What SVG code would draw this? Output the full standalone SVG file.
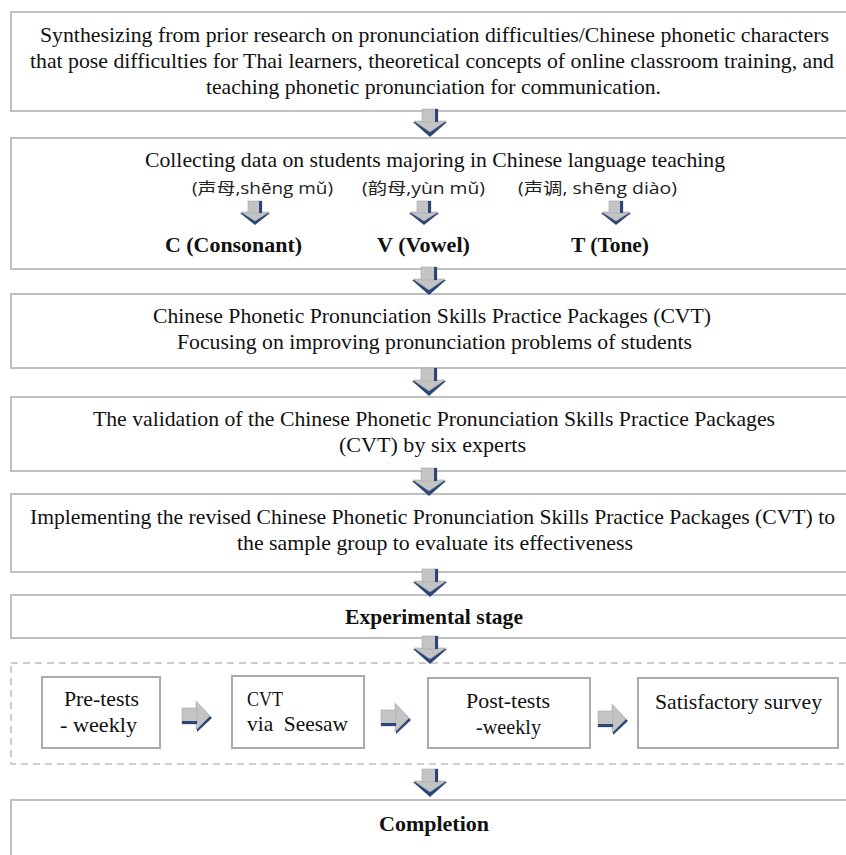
<svg xmlns="http://www.w3.org/2000/svg" width="846" height="855" viewBox="0 0 846 855">
<style>
.box{fill:#fff;stroke:#bfbfbf;stroke-width:2}
.ibox{fill:#fff;stroke:#ababab;stroke-width:2}
.dash{fill:none;stroke:#bdbdbd;stroke-width:1.5;stroke-dasharray:7 5}
.t{font-family:"Liberation Serif","Times New Roman",serif;font-size:22px;fill:#111}
.b{font-family:"Liberation Serif","Times New Roman",serif;font-size:21px;font-weight:bold;fill:#111}
.s{font-family:"Open Sans","Noto Sans CJK SC",sans-serif;font-size:16px;fill:#222}
.g{fill:#c4c4c4;stroke:#a8a8a8;stroke-width:0.6}
.n{fill:#2a4778}
</style>
<defs>
<g id="down">
<polygon class="n" points="-17,13 17,13 0,28"/>
<polygon class="g" points="-16,12 16,12 0,23"/>
<rect class="g" x="-8" y="0" width="16" height="13"/>
<rect class="n" x="5" y="0" width="3" height="13"/>
</g>
<g id="sdown">
<polygon class="n" points="-15,12 15,12 0,24"/>
<polygon class="g" points="-14,11 14,11 0,20"/>
<rect class="g" x="-7" y="0" width="14" height="12"/>
<rect class="n" x="4" y="0" width="3" height="12"/>
</g>
<g id="right">
<polygon class="n" points="15,-13 15,16 30,2"/>
<polygon class="g" points="14,-15 14,14 28,0"/>
<rect class="g" x="0" y="-8" width="15" height="16"/>
<rect class="n" x="0" y="5" width="15" height="3"/>
</g>
</defs>

<g id="n1">
<rect class="box" x="11" y="12" width="840" height="99"/>
<text class="t" x="40" y="42" textLength="789" lengthAdjust="spacingAndGlyphs">Synthesizing from prior research on pronunciation difficulties/Chinese phonetic characters</text>
<text class="t" x="30" y="68" textLength="804" lengthAdjust="spacingAndGlyphs">that pose difficulties for Thai learners, theoretical concepts of online classroom training, and</text>
<text class="t" x="206" y="94" textLength="455" lengthAdjust="spacingAndGlyphs">teaching phonetic pronunciation for communication.</text>
</g>

<g id="n2">
<rect class="box" x="11" y="138" width="840" height="131"/>
<text class="t" x="145" y="167" textLength="580" lengthAdjust="spacingAndGlyphs">Collecting data on students majoring in Chinese language teaching</text>
<text class="s" x="192" y="194" textLength="141" lengthAdjust="spacingAndGlyphs">(声母,shēng mǔ)</text>
<text class="s" x="362" y="194" textLength="123" lengthAdjust="spacingAndGlyphs">(韵母,yùn mǔ)</text>
<text class="s" x="518" y="194" textLength="159" lengthAdjust="spacingAndGlyphs">(声调, shēng diào)</text>
<use href="#sdown" x="255" y="201"/>
<use href="#sdown" x="424" y="201"/>
<use href="#sdown" x="616" y="201"/>
<text class="b" x="165" y="252" textLength="137" lengthAdjust="spacingAndGlyphs">C (Consonant)</text>
<text class="b" x="377" y="252" textLength="93" lengthAdjust="spacingAndGlyphs">V (Vowel)</text>
<text class="b" x="571" y="252" textLength="78" lengthAdjust="spacingAndGlyphs">T (Tone)</text>
</g>

<g id="n3">
<rect class="box" x="11" y="294" width="840" height="74"/>
<text class="t" x="153" y="323" textLength="558" lengthAdjust="spacingAndGlyphs">Chinese Phonetic Pronunciation Skills Practice Packages (CVT)</text>
<text class="t" x="177" y="349" textLength="515" lengthAdjust="spacingAndGlyphs">Focusing on improving pronunciation problems of students</text>
</g>

<g id="n4">
<rect class="box" x="11" y="397" width="840" height="74"/>
<text class="t" x="93" y="426" textLength="682" lengthAdjust="spacingAndGlyphs">The validation of the Chinese Phonetic Pronunciation Skills Practice Packages</text>
<text class="t" x="339" y="452" textLength="187" lengthAdjust="spacingAndGlyphs">(CVT) by six experts</text>
</g>

<g id="n5">
<rect class="box" x="11" y="494" width="840" height="78"/>
<text class="t" x="30" y="524" textLength="805" lengthAdjust="spacingAndGlyphs">Implementing the revised Chinese Phonetic Pronunciation Skills Practice Packages (CVT) to</text>
<text class="t" x="237" y="550" textLength="396" lengthAdjust="spacingAndGlyphs">the sample group to evaluate its effectiveness</text>
</g>

<g id="n6">
<rect class="box" x="11" y="595" width="840" height="43"/>
<text class="b" x="345" y="624" textLength="178" lengthAdjust="spacingAndGlyphs">Experimental stage</text>
</g>

<g id="stage">
<rect class="dash" x="11" y="663" width="840" height="101"/>
</g>

<g id="n7">
<rect class="ibox" x="42" y="677" width="118" height="71"/>
<text class="t" x="64" y="706" textLength="75" lengthAdjust="spacingAndGlyphs">Pre-tests</text>
<text class="t" x="60" y="732" textLength="77" lengthAdjust="spacingAndGlyphs">- weekly</text>
</g>
<g id="n8">
<rect class="ibox" x="232" y="676" width="132" height="72"/>
<text class="t" x="247" y="706" textLength="36" lengthAdjust="spacingAndGlyphs">CVT</text>
<text class="t" x="247" y="731" textLength="101" lengthAdjust="spacingAndGlyphs" xml:space="preserve">via  Seesaw</text>
</g>
<g id="n9">
<rect class="ibox" x="428" y="678" width="162" height="70"/>
<text class="t" x="466" y="708" textLength="84" lengthAdjust="spacingAndGlyphs">Post-tests</text>
<text class="t" x="476" y="734" textLength="65" lengthAdjust="spacingAndGlyphs">-weekly</text>
</g>
<g id="n10">
<rect class="ibox" x="638" y="678" width="200" height="70"/>
<text class="t" x="655" y="709" textLength="167" lengthAdjust="spacingAndGlyphs">Satisfactory survey</text>
</g>

<g id="n11">
<rect class="box" x="11" y="800" width="840" height="70"/>
<text class="b" x="379" y="831" textLength="110" lengthAdjust="spacingAndGlyphs">Completion</text>
</g>

<g id="connectors">
<use href="#down" x="430" y="109"/>
<use href="#down" x="429" y="267"/>
<use href="#down" x="429" y="368"/>
<use href="#down" x="429" y="468"/>
<use href="#down" x="430" y="569"/>
<use href="#down" x="430" y="636"/>
<use href="#down" x="430" y="769"/>
<use href="#right" x="182" y="716"/>
<use href="#right" x="381" y="718"/>
<use href="#right" x="598" y="719"/>
</g>
</svg>
